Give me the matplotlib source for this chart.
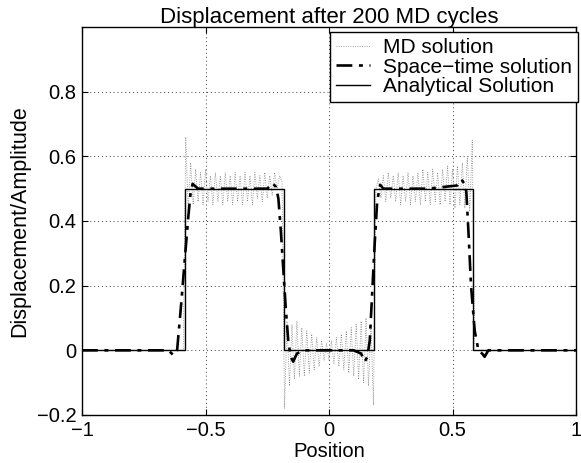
import numpy as np
import matplotlib
matplotlib.use("Agg")
import matplotlib.pyplot as plt

plt.rcParams['font.family'] = ['Liberation Sans', 'DejaVu Sans']
plt.rcParams['axes.unicode_minus'] = True

title = "Displacement after 200 MD cycles"
xlabel = "Position"
ylabel = "Displacement/Amplitude"
legend_labels = ["MD solution", "Space\u2212time solution", "Analytical Solution"]

xticks = [-1, -0.5, 0, 0.5, 1]
xticklabels = ["\u22121", "\u22120.5", "0", "0.5", "1"]
yticks = [-0.2, 0, 0.2, 0.4, 0.6, 0.8]
yticklabels = ["\u22120.2", "0", "0.2", "0.4", "0.6", "0.8"]

# Analytical solution (square pulses)
an_x = [-1.0, -0.585, -0.585, -0.183, -0.183, 0.183, 0.183, 0.585, 0.585, 1.0]
an_y = [0.0, 0.0, 0.5, 0.5, 0.0, 0.0, 0.5, 0.5, 0.0, 0.0]

# Space-time solution
st_x = [-1.00, -0.65, -0.63, -0.615, -0.60, -0.585, -0.57, -0.56, -0.552, -0.53,
        -0.40, -0.25, -0.228, -0.215, -0.205, -0.195, -0.185, -0.175, -0.165,
        -0.155, -0.145, -0.13, -0.10, 0.0, 0.10, 0.13, 0.145, 0.155, 0.165,
        0.175, 0.185, 0.195, 0.207, 0.22, 0.40, 0.52, 0.537, 0.548, 0.556,
        0.565, 0.575, 0.59, 0.605, 0.62, 0.63, 0.645, 1.00]
st_y = [0.0, 0.0, -0.015, 0.0, 0.13, 0.27, 0.41, 0.49, 0.515, 0.50,
        0.50, 0.50, 0.517, 0.505, 0.47, 0.37, 0.25, 0.13, 0.03,
        -0.02, -0.035, -0.01, 0.0, 0.0, 0.0, -0.01, -0.035, -0.02, 0.03,
        0.18, 0.33, 0.46, 0.512, 0.50, 0.50, 0.51, 0.528, 0.515, 0.49,
        0.36, 0.20, 0.06, 0.0, -0.01, -0.02, 0.0, 0.0]

# MD solution, sampled every 0.01 from -1 to 1
md_x = np.linspace(-1.0, 1.0, 201)
md_y = [
    0.0, 0.0, 0.0, 0.0, 0.0, 0.0, 0.0, 0.0, 0.0, 0.0,
    0.0, 0.0, 0.0, 0.0, 0.0, 0.0, 0.0, 0.0, 0.0, 0.0,
    0.0, 0.0, 0.0, 0.0, 0.0, 0.0, 0.0, 0.0, 0.0, 0.0,
    0.0, 0.0, 0.0, 0.0, 0.0, 0.0, 0.0, 0.0, 0.0, 0.0,
    0.0,
    0.00, 0.66,
    0.43, 0.58, 0.45, 0.56, 0.46, 0.55, 0.45, 0.56, 0.46, 0.54,
    0.45, 0.55, 0.46, 0.54, 0.45, 0.55, 0.46, 0.54, 0.45, 0.55,
    0.46, 0.54, 0.45, 0.55, 0.46, 0.54, 0.45, 0.55, 0.47, 0.54,
    0.46, 0.55, 0.47, 0.54, 0.48, 0.55, 0.50, 0.54, 0.52,
    -0.18,
    0.09, -0.11, 0.08, -0.09, 0.09, -0.08, 0.07, -0.08, 0.06, -0.07,
    0.05, -0.06, 0.04, -0.05, 0.03, -0.03, 0.02, -0.03, 0.03, -0.04,
    0.04, -0.05, 0.05, -0.06, 0.06, -0.07, 0.07, -0.08, 0.08, -0.09,
    0.09, -0.10, 0.10, -0.11, 0.08,
    -0.17,
    0.50, 0.53, 0.47, 0.54, 0.46, 0.55, 0.47, 0.54, 0.46, 0.55,
    0.45, 0.54, 0.46, 0.55, 0.45, 0.54, 0.46, 0.55, 0.45, 0.56,
    0.46, 0.55, 0.45, 0.56, 0.46, 0.55, 0.45, 0.56, 0.46, 0.57,
    0.45, 0.56, 0.44, 0.57, 0.45, 0.58, 0.44, 0.60, 0.43,
    0.65,
    0.0, 0.0, 0.0, 0.0, 0.0, 0.0, 0.0, 0.0, 0.0, 0.0,
    0.0, 0.0, 0.0, 0.0, 0.0, 0.0, 0.0, 0.0, 0.0, 0.0,
    0.0, 0.0, 0.0, 0.0, 0.0, 0.0, 0.0, 0.0, 0.0, 0.0,
    0.0, 0.0, 0.0, 0.0, 0.0, 0.0, 0.0, 0.0, 0.0, 0.0,
    0.0, 0.0,
]

fig = plt.figure(figsize=(5.81, 4.63), dpi=100)
ax = fig.add_axes([82 / 581, 1 - 415 / 463, (576 - 82) / 581, (415 - 27) / 463])

l1, = ax.plot(md_x, md_y, color='0.5', linestyle=(0, (1, 1.8)), linewidth=0.6)
l2, = ax.plot(st_x, st_y, color='black', linestyle=(0, (6, 2.5, 1.5, 2.5)), linewidth=1.9)
l3, = ax.plot(an_x, an_y, color='black', linestyle='-', linewidth=1.0)

ax.set_xlim(-1, 1)
ax.set_ylim(-0.2, 1.0)
ax.set_xticks(xticks)
ax.set_xticklabels(xticklabels)
ax.set_yticks(yticks)
ax.set_yticklabels(yticklabels)
ax.tick_params(direction='in', length=4, width=0.8, labelsize=14.5,
               top=True, right=True, pad=4)
for s in ax.spines.values():
    s.set_linewidth(1.0)
ax.grid(True, color='0.25', linestyle=(0, (1, 3)), linewidth=0.7)

ax.set_title(title, fontsize=16, pad=3)
ax.set_xlabel(xlabel, fontsize=14.5, labelpad=2)
ax.set_ylabel(ylabel, fontsize=15.5, labelpad=5)

leg = ax.legend([l1, l2, l3], legend_labels, loc='upper right',
                bbox_to_anchor=(578 / 581, 1 - 32 / 463),
                bbox_transform=fig.transFigure, borderaxespad=0,
                fontsize=15, frameon=True, fancybox=False,
                handlelength=1.65, handletextpad=0.6, labelspacing=0.02,
                borderpad=0.3)
leg.get_frame().set_edgecolor('black')
leg.get_frame().set_linewidth(1.0)
leg.get_frame().set_alpha(1)

fig.savefig("out.png", dpi=100)
